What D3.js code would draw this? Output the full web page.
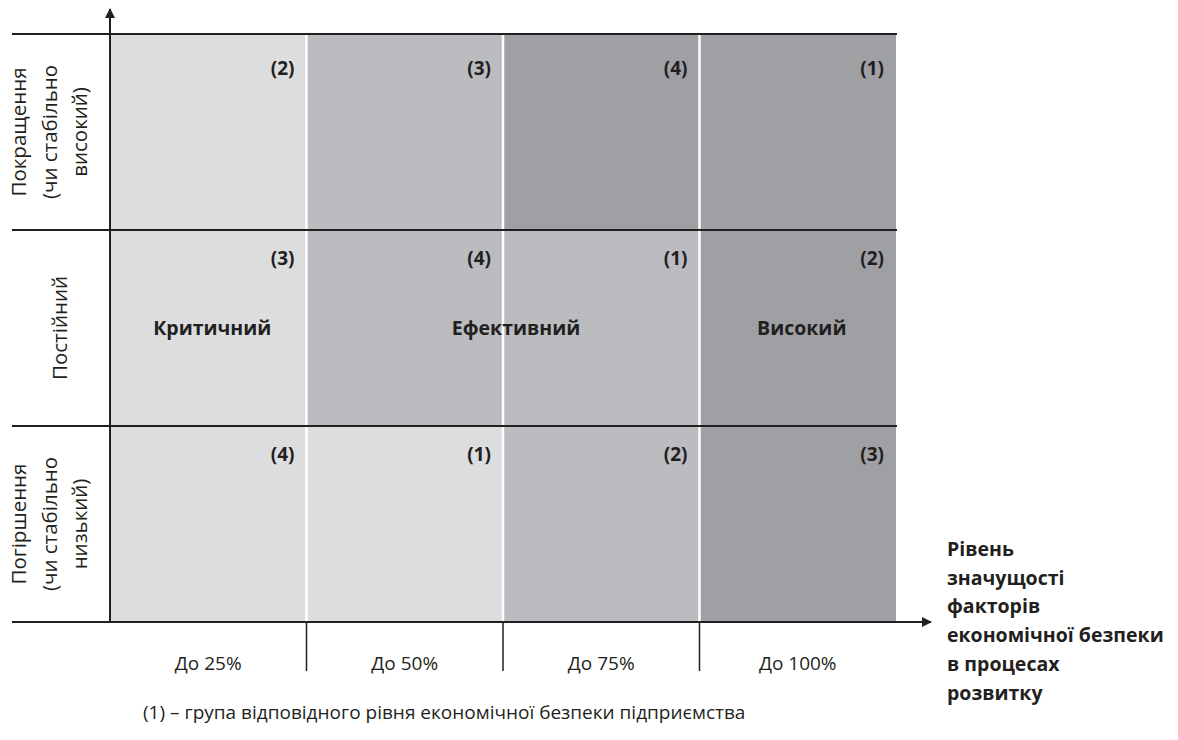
<!DOCTYPE html>
<html>
<head>
<meta charset="utf-8">
<script src="https://cdn.jsdelivr.net/npm/d3@7"></script>
<style>
  body { margin: 0; background: #fff; }
  svg { display: block; font-family: "Open Sans", "Noto Sans", sans-serif; }
</style>
</head>
<body>
<div id="chart"></div>
<script>
// columns = significance level of the factors, rows = dynamics
var columns = ["До 25%", "До 50%", "До 75%", "До 100%"];
var rows = [
  ["Покращення", "(чи стабільно", "високий)"],
  ["Постійний"],
  ["Погіршення", "(чи стабільно", "низький)"]
];
// shade level per cell (0 light, 1 medium, 2 dark), row by row
var shades = [
  [0, 1, 2, 2],
  [0, 1, 1, 2],
  [0, 0, 1, 2]
];
// group number printed in every cell
var groups = [
  ["(2)", "(3)", "(4)", "(1)"],
  ["(3)", "(4)", "(1)", "(2)"],
  ["(4)", "(1)", "(2)", "(3)"]
];
// zone names in the middle row
var zones = [
  { name: "Критичний", from: 0, to: 0 },
  { name: "Ефективний", from: 1, to: 2 },
  { name: "Високий", from: 3, to: 3 }
];
var xTitle = ["Рівень", "значущості", "факторів", "економічної безпеки", "в процесах", "розвитку"];
var note = "(1) – група відповідного рівня економічної безпеки підприємства";
var shadeColors = ["#dcdddf", "#bbbcc0", "#9fa0a4"];

var W = 1178, H = 740;
var ink = "#231f20";

var svg = d3.select("#chart").append("svg")
  .attr("width", W)
  .attr("height", H);

var x = d3.scaleBand().domain(d3.range(columns.length)).range([110, 896]);
var y = d3.scaleBand().domain(d3.range(rows.length)).range([34, 622]);
var shade = d3.scaleOrdinal().domain([0, 1, 2]).range(shadeColors);

svg.append("defs").append("marker")
  .attr("id", "arrow")
  .attr("viewBox", "0 0 10 10")
  .attr("refX", 9).attr("refY", 5)
  .attr("markerWidth", 5).attr("markerHeight", 5)
  .attr("orient", "auto")
  .append("path")
  .attr("d", "M0,0 L10,5 L0,10 Z")
  .attr("fill", ink);

// cells
var cells = [];
shades.forEach(function(r, i){
  r.forEach(function(s, j){ cells.push({ row: i, col: j, shade: s, label: groups[i][j] }); });
});

svg.append("g").selectAll("rect").data(cells).enter().append("rect")
  .attr("x", function(d){ return x(d.col); })
  .attr("y", function(d){ return y(d.row); })
  .attr("width", x.bandwidth())
  .attr("height", y.bandwidth())
  .attr("fill", function(d){ return shade(d.shade); });

// white gaps between columns
svg.append("g").selectAll("line").data(d3.range(1, columns.length)).enter().append("line")
  .attr("x1", function(d){ return x(d); })
  .attr("x2", function(d){ return x(d); })
  .attr("y1", y.range()[0])
  .attr("y2", y.range()[1])
  .attr("stroke", "#fff")
  .attr("stroke-width", 2.5);

// horizontal row lines
svg.append("g").selectAll("line").data(d3.range(rows.length)).enter().append("line")
  .attr("x1", 12)
  .attr("x2", 897)
  .attr("y1", function(d){ return y(d); })
  .attr("y2", function(d){ return y(d); })
  .attr("stroke", ink)
  .attr("stroke-width", 2);

// x axis with arrow
svg.append("line")
  .attr("x1", 12).attr("x2", 931)
  .attr("y1", y.range()[1]).attr("y2", y.range()[1])
  .attr("stroke", ink).attr("stroke-width", 2)
  .attr("marker-end", "url(#arrow)");

// y axis with arrow
svg.append("line")
  .attr("x1", x.range()[0]).attr("x2", x.range()[0])
  .attr("y1", y.range()[1]).attr("y2", 9)
  .attr("stroke", ink).attr("stroke-width", 2)
  .attr("marker-end", "url(#arrow)");

// tick separators under the axis
svg.append("g").selectAll("line").data(d3.range(1, columns.length)).enter().append("line")
  .attr("x1", function(d){ return x(d); })
  .attr("x2", function(d){ return x(d); })
  .attr("y1", y.range()[1])
  .attr("y2", y.range()[1] + 49)
  .attr("stroke", ink)
  .attr("stroke-width", 1.5);

// column labels
svg.append("g").selectAll("text").data(columns).enter().append("text")
  .attr("x", function(d, i){ return x(i) + x.bandwidth() / 2; })
  .attr("y", y.range()[1] + 48)
  .attr("text-anchor", "middle")
  .attr("font-size", 19)
  .attr("fill", ink)
  .text(function(d){ return d; });

// group labels in the cells
svg.append("g").selectAll("text").data(cells).enter().append("text")
  .attr("x", function(d){ return x(d.col) + x.bandwidth() - 12; })
  .attr("y", function(d){ return y(d.row) + (d.row === 0 ? 41 : 35); })
  .attr("text-anchor", "end")
  .attr("font-size", 19)
  .attr("font-weight", "bold")
  .attr("fill", ink)
  .text(function(d){ return d.label; });

// zone names
svg.append("g").selectAll("text").data(zones).enter().append("text")
  .attr("x", function(d){ return (x(d.from) + x(d.to) + x.bandwidth()) / 2 + (d.from !== d.to ? 13 : 4); })
  .attr("y", y(1) + y.bandwidth() / 2 + 7)
  .attr("text-anchor", "middle")
  .attr("font-size", 19.5)
  .attr("font-weight", "bold")
  .attr("fill", ink)
  .text(function(d){ return d.name; });

// row labels, rotated
var rowG = svg.append("g").selectAll("g").data(rows).enter().append("g")
  .attr("transform", function(d, i){
    var lineX = d.length > 1 ? 26 : 67;
    return "translate(" + lineX + "," + (y(i) + y.bandwidth() / 2) + ") rotate(-90)";
  });
rowG.selectAll("text").data(function(d){ return d; }).enter().append("text")
  .attr("x", 0)
  .attr("y", function(d, k){ return k * 30.5; })
  .attr("text-anchor", "middle")
  .attr("font-size", 20.5)
  .attr("fill", ink)
  .text(function(d){ return d; });

// x axis title
svg.append("g").selectAll("text").data(xTitle).enter().append("text")
  .attr("x", 947)
  .attr("y", function(d, i){ return 556 + i * 28.7; })
  .attr("font-size", 19.5)
  .attr("font-weight", "bold")
  .attr("fill", ink)
  .text(function(d){ return d; });

// footnote
svg.append("text")
  .attr("x", 143)
  .attr("y", 719)
  .attr("font-size", 19)
  .attr("fill", ink)
  .text(note);
</script>
</body>
</html>
